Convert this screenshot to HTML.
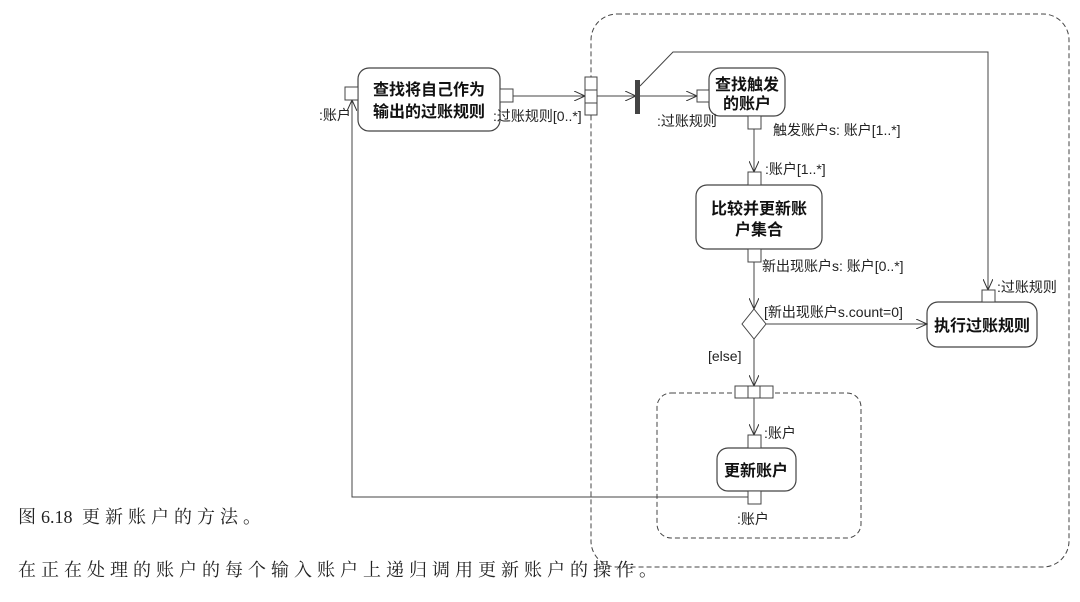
<!DOCTYPE html>
<html><head><meta charset="utf-8"><style>
body{margin:0;background:#fff;}
svg{display:block;}
.t{font-family:"Liberation Sans","Noto Sans CJK SC",sans-serif;font-size:14px;fill:#222;}
.b{font-family:"Liberation Sans","Noto Sans CJK SC",sans-serif;font-size:16px;font-weight:bold;fill:#111;}
.s{font-family:"Liberation Serif","Noto Serif CJK SC",serif;font-size:18px;letter-spacing:5px;fill:#222;}
</style></head><body>
<svg width="1080" height="602" viewBox="0 0 1080 602" xmlns="http://www.w3.org/2000/svg">
<defs><marker id="a" markerWidth="12" markerHeight="10" refX="11" refY="5" orient="auto" markerUnits="userSpaceOnUse"><path d="M0,0 L11,5 L0,10" fill="none" stroke="#333" stroke-width="1"/></marker></defs>
<g fill="none" stroke="#444" stroke-width="1">
<rect x="591" y="14" width="478" height="553" rx="26" stroke-dasharray="5,3"/>
<rect x="657" y="393" width="204" height="145" rx="14" stroke-dasharray="5,3"/>
</g>
<g fill="#fff" stroke="#444" stroke-width="1.2">
<rect x="358" y="68" width="142" height="63" rx="11"/>
<rect x="709" y="68" width="76" height="48" rx="11"/>
<rect x="696" y="185" width="126" height="64" rx="11"/>
<rect x="927" y="302" width="110" height="45" rx="11"/>
<rect x="717" y="448" width="79" height="43" rx="11"/>
</g>
<g fill="none" stroke="#444" stroke-width="1">
<line x1="513" y1="96" x2="585" y2="96" marker-end="url(#a)"/>
<line x1="597" y1="96" x2="636" y2="96" marker-end="url(#a)"/>
<line x1="640" y1="96" x2="697" y2="96" marker-end="url(#a)"/>
<polyline points="640,86 673,52 988,52 988,290" marker-end="url(#a)"/>
<line x1="754" y1="129" x2="754" y2="172" marker-end="url(#a)"/>
<line x1="754" y1="262" x2="754" y2="309" marker-end="url(#a)"/>
<line x1="766" y1="324" x2="927" y2="324" marker-end="url(#a)"/>
<line x1="754" y1="339" x2="754" y2="386" marker-end="url(#a)"/>
<line x1="754" y1="398" x2="754" y2="435" marker-end="url(#a)"/>
<polyline points="748,497 352,497 352,100" marker-end="url(#a)"/>
</g>
<rect x="635" y="80" width="5" height="34" fill="#444"/>
<g fill="#fff" stroke="#444" stroke-width="1">
<rect x="345" y="87" width="13" height="13"/>
<rect x="500" y="89" width="13" height="13"/>
<rect x="585" y="77" width="12" height="13"/>
<rect x="585" y="90" width="12" height="13"/>
<rect x="585" y="103" width="12" height="12"/>
<rect x="697" y="90" width="12" height="12"/>
<rect x="748" y="116" width="13" height="13"/>
<rect x="748" y="172" width="13" height="13"/>
<rect x="748" y="249" width="13" height="13"/>
<rect x="982" y="290" width="13" height="12"/>
<polygon points="754,309 766,324 754,339 742,324"/>
<rect x="735" y="386" width="13" height="12"/>
<rect x="748" y="386" width="12" height="12"/>
<rect x="760" y="386" width="13" height="12"/>
<rect x="748" y="435" width="13" height="13"/>
<rect x="748" y="491" width="13" height="13"/>
</g>
<text class="b" x="429" y="95" text-anchor="middle">查找将自己作为</text>
<text class="b" x="429" y="117" text-anchor="middle">输出的过账规则</text>
<text class="b" x="747" y="90" text-anchor="middle">查找触发</text>
<text class="b" x="747" y="109" text-anchor="middle">的账户</text>
<text class="b" x="759" y="214" text-anchor="middle">比较并更新账</text>
<text class="b" x="759" y="235" text-anchor="middle">户集合</text>
<text class="b" x="982" y="331" text-anchor="middle">执行过账规则</text>
<text class="b" x="756" y="476" text-anchor="middle">更新账户</text>
<text class="t" x="319" y="120">:账户</text>
<text class="t" x="493" y="121">:过账规则[0..*]</text>
<text class="t" x="657" y="126">:过账规则</text>
<text class="t" x="773" y="135">触发账户s: 账户[1..*]</text>
<text class="t" x="765" y="174">:账户[1..*]</text>
<text class="t" x="762" y="271">新出现账户s: 账户[0..*]</text>
<text class="t" x="764" y="317">[新出现账户s.count=0]</text>
<text class="t" x="997" y="292">:过账规则</text>
<text class="t" x="708" y="361">[else]</text>
<text class="t" x="764" y="438">:账户</text>
<text class="t" x="737" y="524">:账户</text>
<text class="s" x="18" y="523">图<tspan style="letter-spacing:0">6.18</tspan> 更新账户的方法。</text>
<text class="s" x="18" y="576">在正在处理的账户的每个输入账户上递归调用更新账户的操作。</text>
</svg>
</body></html>
